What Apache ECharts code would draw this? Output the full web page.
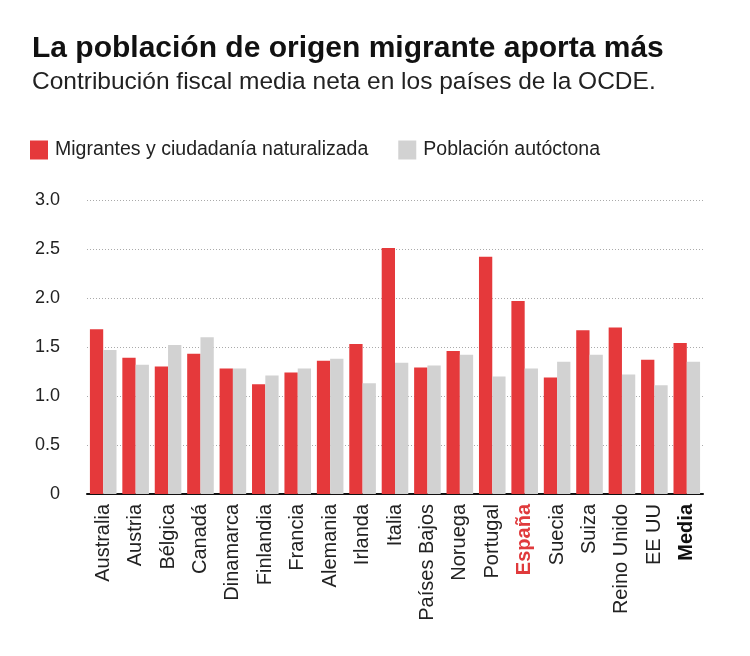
<!DOCTYPE html>
<html>
<head>
<meta charset="utf-8">
<script src="https://cdn.jsdelivr.net/npm/echarts@6/dist/echarts.min.js"></script>
<style>
html,body{margin:0;padding:0;background:#fff;}
#chart{width:750px;height:656px;}
</style>
</head>
<body>
<div id="chart"></div>
<script>
const categories = ['Australia','Austria','Bélgica','Canadá','Dinamarca','Finlandia','Francia','Alemania','Irlanda','Italia','Países Bajos','Noruega','Portugal','España','Suecia','Suiza','Reino Unido','EE UU','Media'];
const migrantes = [1.68,1.39,1.30,1.43,1.28,1.12,1.24,1.36,1.53,2.51,1.29,1.46,2.42,1.97,1.19,1.67,1.70,1.37,1.54];
const autoctona = [1.47,1.32,1.52,1.60,1.28,1.21,1.28,1.38,1.13,1.34,1.31,1.42,1.20,1.28,1.35,1.42,1.22,1.11,1.35];
const yTicks = ['0','0.5','1.0','1.5','2.0','2.5','3.0'];
const seriesNames = ['Migrantes y ciudadanía naturalizada','Población autóctona'];

const FONT = '"Liberation Sans", Arial, sans-serif';
const chart = echarts.init(document.getElementById('chart'));
chart.setOption({
  backgroundColor: '#fff',
  animation: false,
  title: [
    {text: 'La población de origen migrante aporta más', left: 27, top: 29,
     textStyle: {fontFamily: FONT, fontSize: 30, fontWeight: 'bold', color: '#111'}},
    {text: 'Contribución fiscal media neta en los países de la OCDE.', left: 27, top: 65,
     textStyle: {fontFamily: FONT, fontSize: 24.5, fontWeight: 'normal', color: '#222'}}
  ],
  legend: {
    left: 25, top: 135, itemWidth: 18, itemHeight: 19, itemGap: 30,
    icon: 'rect',
    textStyle: {fontFamily: FONT, fontSize: 19.5, color: '#222', padding: [0,0,0,2]},
    data: seriesNames
  },
  grid: {left: 87, right: 47, top: 200, bottom: 162, containLabel: false},
  xAxis: {
    type: 'category', data: categories,
    axisLine: {lineStyle: {color: '#111', width: 2}},
    axisTick: {show: false},
    axisLabel: {
      rotate: 90, interval: 0, margin: 10, fontFamily: FONT, fontSize: 20, color: '#222',
      formatter: function (v) {
        if (v === 'España') return '{es|' + v + '}';
        if (v === 'Media') return '{md|' + v + '}';
        return v;
      },
      rich: {
        es: {fontFamily: FONT, fontSize: 20, fontWeight: 'bold', color: '#e03a3c'},
        md: {fontFamily: FONT, fontSize: 20, fontWeight: 'bold', color: '#111'}
      }
    }
  },
  yAxis: {
    type: 'value', min: 0, max: 3, interval: 0.5,
    axisLine: {show: false}, axisTick: {show: false},
    axisLabel: {
      margin: 27, fontFamily: FONT, fontSize: 18, color: '#222',
      formatter: function (v) { return yTicks[Math.round(v / 0.5)]; }
    },
    splitLine: {lineStyle: {color: '#aaa', type: [1, 2], width: 1}}
  },
  series: [
    {name: seriesNames[0], type: 'bar', data: migrantes, barGap: '0%', barCategoryGap: '18%',
     itemStyle: {color: '#e5393b'}},
    {name: seriesNames[1], type: 'bar', data: autoctona,
     itemStyle: {color: '#d2d2d2'}}
  ]
});
</script>
</body>
</html>
